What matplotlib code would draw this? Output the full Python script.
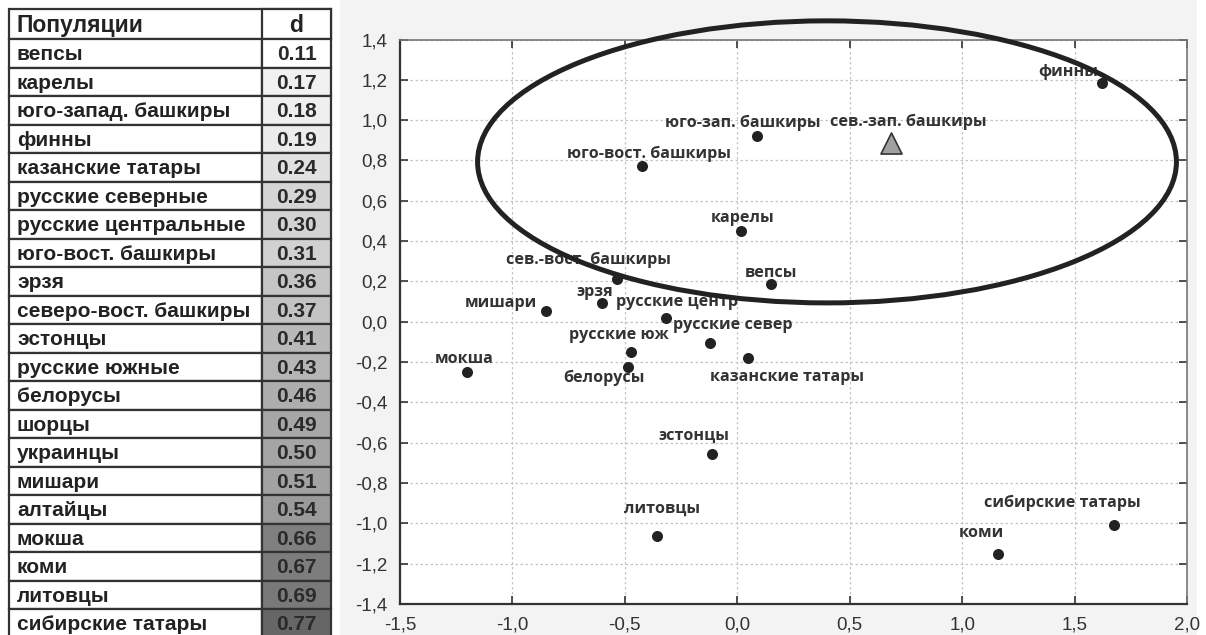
import matplotlib
matplotlib.use("Agg")
import matplotlib.pyplot as plt
import numpy as np
from matplotlib.patches import Rectangle, Ellipse
from matplotlib.ticker import FuncFormatter

# ---- table data ----
tbl_pop = ["вепсы", "карелы", "юго-запад. башкиры", "финны", "казанские татары",
           "русские северные", "русские центральные", "юго-вост. башкиры", "эрзя",
           "северо-вост. башкиры", "эстонцы", "русские южные", "белорусы", "шорцы",
           "украинцы", "мишари", "алтайцы", "мокша", "коми", "литовцы", "сибирские татары"]
tbl_d = [0.11, 0.17, 0.18, 0.19, 0.24, 0.29, 0.30, 0.31, 0.36, 0.37, 0.41, 0.43,
         0.46, 0.49, 0.50, 0.51, 0.54, 0.66, 0.67, 0.69, 0.77]

# ---- scatter data ----
pts_name = ["финны", "юго-зап. башкиры", "юго-вост. башкиры", "карелы", "вепсы",
            "сев.-вост. башкиры", "эрзя", "мишари", "русские центр", "русские север",
            "русские юж", "белорусы", "казанские татары", "мокша", "эстонцы",
            "литовцы", "сибирские татары", "коми"]
pts_x = [1.62, 0.086, -0.425, 0.015, 0.148, -0.534, -0.603, -0.851, -0.319, -0.12,
         -0.473, -0.485, 0.046, -1.204, -0.111, -0.356, 1.675, 1.16]
pts_y = [1.186, 0.923, 0.774, 0.45, 0.188, 0.21, 0.095, 0.055, 0.017, -0.105,
         -0.15, -0.226, -0.181, -0.249, -0.657, -1.061, -1.008, -1.152]
# label offsets in pixels (dx, dy)
lab_off = [(-33, 11), (-14, 13), (7, 12), (2, 13), (0, 11), (-29, 20), (-7, 11),
           (-45, 8), (11, 16), (22, 18), (-12, 17), (-24, -11), (39, -19), (-2, 13),
           (-18, 18), (5, 27), (-52, 22), (-17, 21)]
ref_name = "сев.-зап. башкиры"
ref_x, ref_y = 0.683, 0.885

W, H = 1206, 635
fig = plt.figure(figsize=(W / 100, H / 100), dpi=100)
fig.patch.set_facecolor("white")

# background layer in pixel coords
bg = fig.add_axes([0, 0, 1, 1])
bg.set_xlim(0, W); bg.set_ylim(H, 0); bg.axis("off")
bg.add_patch(Rectangle((340, 0), 857, H, color="#f3f3f3", lw=0))

# table
tx0, tx1, tx2 = 9, 262, 331
ty0, hh, rh = 9, 30.3, 28.5
dmin, dmax = min(tbl_d), max(tbl_d)
lc = "#333333"
bg.add_patch(Rectangle((tx0, ty0), tx2 - tx0, hh, facecolor="white", edgecolor=lc, lw=1.6))
bg.add_patch(Rectangle((tx1, ty0), tx2 - tx1, hh, facecolor="white", edgecolor=lc, lw=1.6))
bg.text(tx0 + 8, ty0 + hh / 2 + 1, "Популяции", fontsize=16.5, fontweight="bold",
        family="Liberation Sans", color="#222222", va="center", ha="left")
bg.text((tx1 + tx2) / 2, ty0 + hh / 2 + 1, "d", fontsize=16.5, fontweight="bold",
        family="Liberation Sans", color="#222222", va="center", ha="center")
for i, (p, d) in enumerate(zip(tbl_pop, tbl_d)):
    y = ty0 + hh + i * rh
    g = 1.0 - 0.6 * (d - dmin) / (dmax - dmin)
    fc = (g, g, g)
    bg.add_patch(Rectangle((tx0, y), tx1 - tx0, rh, facecolor="white", edgecolor=lc, lw=1.6))
    bg.add_patch(Rectangle((tx1, y), tx2 - tx1, rh, facecolor=fc, edgecolor=lc, lw=1.6))
    bg.text(tx0 + 8, y + rh / 2 + 1, p, fontsize=15, fontweight="bold",
            family="Liberation Sans", color="#222222", va="center", ha="left")
    bg.text((tx1 + tx2) / 2, y + rh / 2 + 1, f"{d:.2f}", fontsize=15, fontweight="bold",
            family="Liberation Sans", color="#2a2a2a", va="center", ha="center")

# scatter plot
ax = fig.add_axes([400 / W, 1 - 604 / H, (1187 - 400) / W, (604 - 39.5) / H])
ax.set_facecolor("white")
ax.set_xlim(-1.5, 2.0)
ax.set_ylim(-1.4, 1.4)
ax.set_xticks(np.arange(-1.5, 2.01, 0.5))
ax.set_yticks(np.arange(-1.4, 1.41, 0.2))
fmt = FuncFormatter(lambda v, _: f"{v:.1f}".replace(".", ",").replace("-0,0", "0,0"))
ax.xaxis.set_major_formatter(fmt)
ax.yaxis.set_major_formatter(fmt)
ax.grid(True, color="#c4c4c4", linestyle=(0, (2, 2)), lw=0.9)
ax.set_axisbelow(True)
ax.tick_params(direction="in", length=6, width=1.2, color="#333333",
               top=True, right=True, labelsize=13.5, labelcolor="#333333", pad=9)
for t in ax.get_xticklabels() + ax.get_yticklabels():
    t.set_family("Liberation Sans")
for s in ("left", "bottom"):
    ax.spines[s].set_color("#333333"); ax.spines[s].set_linewidth(1.6)
for s in ("top", "right"):
    ax.spines[s].set_color("#777777"); ax.spines[s].set_linewidth(1.2)

ax.scatter(pts_x, pts_y, s=48, color="#222222", zorder=3)
ax.scatter([ref_x], [ref_y], marker="^", s=230, color="#a0a0a0",
           edgecolor="#333333", linewidth=1.2, zorder=3)
for n, x, y, (dx, dy) in zip(pts_name, pts_x, pts_y, lab_off):
    ax.annotate(n, (x, y), xytext=(dx, dy), textcoords="offset pixels",
                ha="center", va="center", fontsize=11.6, fontweight="bold",
                family="Open Sans", color="#333333", zorder=4)
ax.annotate(ref_name, (ref_x, ref_y), xytext=(17, 21), textcoords="offset pixels",
            ha="center", va="center", fontsize=11.6, fontweight="bold",
            family="Open Sans", color="#333333", zorder=4)

ax.add_patch(Ellipse((0.399, 0.793), 3.108, 1.399, fill=False, edgecolor="#222222",
                     lw=3.6, clip_on=False, zorder=5))

fig.savefig("out.png", dpi=100, facecolor="white")
